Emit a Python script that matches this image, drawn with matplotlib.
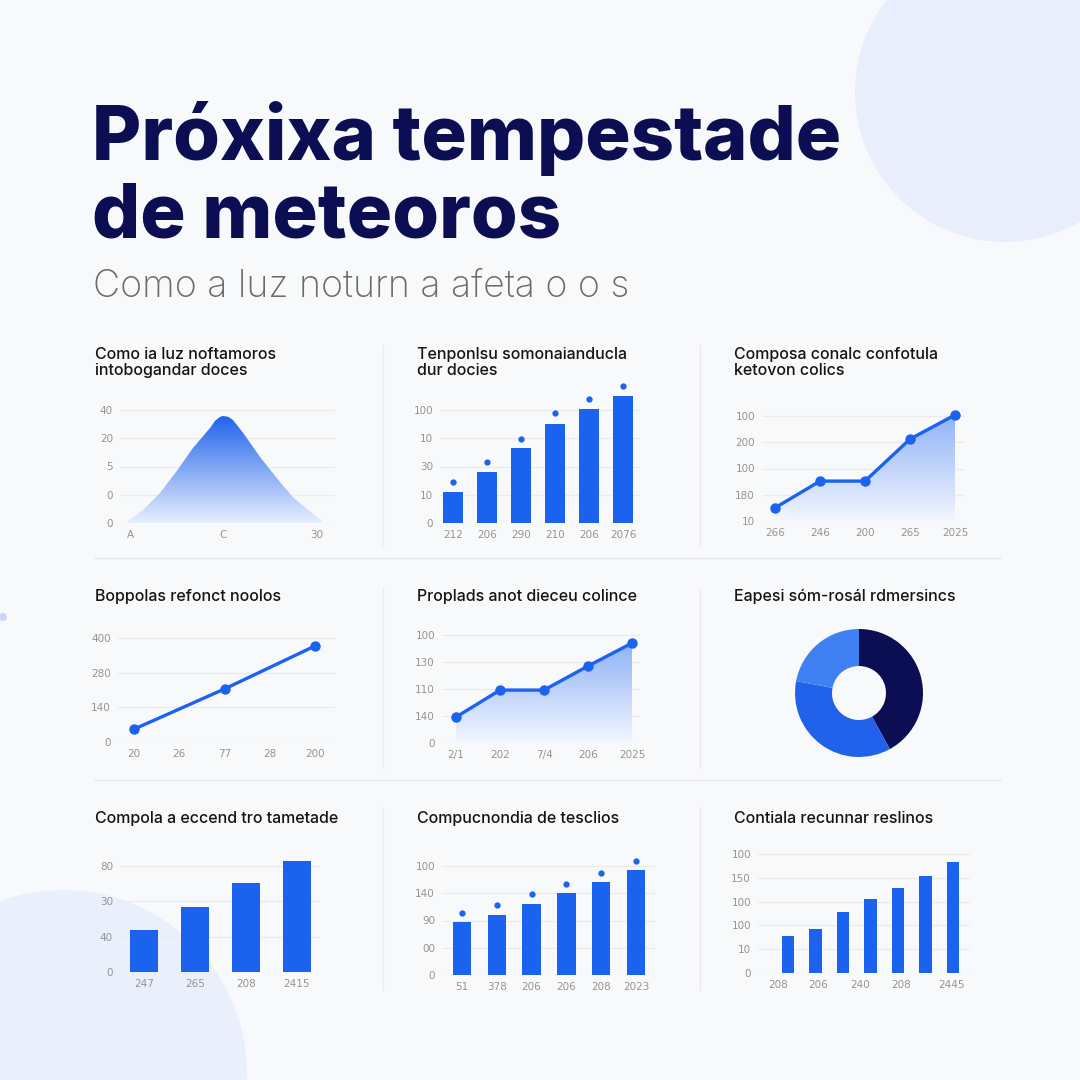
import numpy as np
import matplotlib.pyplot as plt
from matplotlib.patches import Circle
from matplotlib.colors import LinearSegmentedColormap

W = H = 1080
NAVY = '#0b0e52'
BLUE = '#1b63ef'
GRID = '#ebebeb'
TICK = '#949494'

# painel 1 - curva em sino (x: A=0, C=1, 30=2; y em unidades de marca)
bell_x = [-0.03, 0.14, 0.32, 0.50, 0.67, 0.86, 0.91, 0.96, 0.99, 1.05, 1.10,
          1.21, 1.39, 1.57, 1.74, 1.93, 2.06]
bell_y = [0.04, 0.46, 1.06, 1.84, 2.64, 3.38, 3.62, 3.75, 3.79, 3.76, 3.65,
          3.19, 2.34, 1.59, 0.92, 0.39, 0.07]
p1_yticks = ['0', '0', '5', '20', '40']
p1_xticks = ['A', 'C', '30']

# painel 2 - barras com pontos
p2_bars = [1.10, 1.81, 2.65, 3.50, 4.04, 4.50]
p2_dots = [1.45, 2.16, 2.97, 3.89, 4.39, 4.85]
p2_yticks = ['0', '10', '30', '10', '100']
p2_xticks = ['212', '206', '290', '210', '206', '2076']

# painel 3 - linha com area
p3_vals = [0.50, 1.52, 1.52, 3.12, 4.04]
p3_yticks = ['10', '180', '100', '200', '100']
p3_xticks = ['266', '246', '200', '265', '2025']

# painel 4 - linha
p4_x = [0, 2, 4]
p4_vals = [0.37, 1.53, 2.77]
p4_yticks = ['0', '140', '280', '400']
p4_xticks = ['20', '26', '77', '28', '200']

# painel 5 - linha com area
p5_vals = [0.96, 1.96, 1.96, 2.85, 3.70]
p5_yticks = ['0', '140', '110', '130', '100']
p5_xticks = ['2/1', '202', '7/4', '206', '2025']

# painel 6 - rosca
donut_vals = [42, 36, 22]
donut_colors = [NAVY, '#2262ea', '#3f80f2']

# painel 7 - barras
p7_bars = [1.19, 1.84, 2.52, 3.14]
p7_yticks = ['0', '40', '30', '80']
p7_xticks = ['247', '265', '208', '2415']

# painel 8 - barras com pontos
p8_bars = [1.94, 2.20, 2.61, 3.01, 3.41, 3.85]
p8_dots = [2.28, 2.57, 2.97, 3.34, 3.74, 4.18]
p8_yticks = ['0', '00', '90', '140', '100']
p8_xticks = ['51', '378', '206', '206', '208', '2023']

# painel 9 - barras
p9_bars = [1.55, 1.85, 2.56, 3.11, 3.57, 4.08, 4.66]
p9_yticks = ['0', '10', '100', '100', '150', '100']
p9_xticks = ['208', '206', '240', '208', '2445']

titles = [
    'Como ia luz noftamoros\nintobogandar doces',
    'Tenponlsu somonaianducla\ndur docies',
    'Composa conalc confotula\nketovon colics',
    'Boppolas refonct noolos',
    'Proplads anot dieceu colince',
    'Eapesi sóm-rosál rdmersincs',
    'Compola a eccend tro tametade',
    'Compucnondia de tesclios',
    'Contiala recunnar reslinos',
]

fig = plt.figure(figsize=(10.8, 10.8), dpi=100)
fig.patch.set_facecolor('#f8f9fb')

bg = fig.add_axes([0, 0, 1, 1])
bg.set_xlim(0, W)
bg.set_ylim(H, 0)
bg.axis('off')
bg.add_patch(Circle((1005, 92), 150, color='#e8eefc', lw=0))
bg.add_patch(Circle((63, 1074), 184, color='#e9effb', lw=0))
bg.add_patch(Circle((3, 617), 4, color='#c9d6f6', lw=0))
# separadores
for yy in [558, 780]:
    bg.plot([95, 1000], [yy, yy], color='#e6e7ea', lw=1)
for xx in [383, 700]:
    for (a, b) in [(345, 545), (588, 768), (808, 990)]:
        bg.plot([xx, xx], [a, b], color='#ececee', lw=1)


def ftext(x, y, s, **kw):
    fig.text(x / W, 1 - y / H, s, **kw)


ftext(92, 160, 'Próxixa tempestade', fontsize=54.5, fontweight='heavy',
      family='Inter', color=NAVY, va='baseline')
ftext(92, 238, 'de meteoros', fontsize=54.5, fontweight='heavy',
      family='Inter', color=NAVY, va='baseline')
ftext(93, 297, 'Como a luz noturn a afeta o o s', fontsize=27,
      fontweight='light', family='Inter', color='#6b6b6b', va='baseline')

title_pos = [(95, 347), (417, 347), (734, 347),
             (95, 589), (417, 589), (734, 589),
             (95, 811), (417, 811), (734, 811)]
for (tx, ty), t in zip(title_pos, titles):
    ftext(tx, ty, t, fontsize=11.5, fontweight='medium', family='Inter',
          color='#141414', va='top', linespacing=1.1)


def make_ax(left, right, top, y0, ystep, x0, xstep):
    ax = fig.add_axes([left / W, 1 - y0 / H, (right - left) / W, (y0 - top) / H])
    ax.set_facecolor('none')
    ax.set_ylim(0, (y0 - top) / ystep)
    ax.set_xlim((left - x0) / xstep, (right - x0) / xstep)
    for s in ax.spines.values():
        s.set_visible(False)
    ax.tick_params(length=0, labelsize=7.5, labelcolor=TICK, pad=5)
    ax.grid(axis='y', color=GRID, lw=0.9)
    ax.set_axisbelow(True)
    return ax


def grad_fill(ax, x, y, top_c, bot_c):
    poly = ax.fill_between(x, y, 0, color='none', lw=0)
    path = poly.get_paths()[0]
    cmap = LinearSegmentedColormap.from_list('g', [bot_c, top_c])
    grad = np.linspace(0, 1, 256).reshape(-1, 1)
    xl, yl = ax.get_xlim(), ax.get_ylim()
    im = ax.imshow(grad, cmap=cmap, aspect='auto', origin='lower',
                   extent=[x[0], x[-1], 0, max(y)], zorder=1)
    im.set_clip_path(path, transform=ax.transData)
    ax.set_xlim(xl)
    ax.set_ylim(yl)


# painel 1
ax = make_ax(120, 335, 395, 523, 28.25, 130, 93.5)
grad_fill(ax, bell_x, bell_y, '#1f63ec', '#e6eefd')
ax.set_yticks(range(len(p1_yticks)))
ax.set_yticklabels(p1_yticks)
ax.set_xticks(range(len(p1_xticks)))
ax.set_xticklabels(p1_xticks)

# painel 2
ax = make_ax(440, 640, 380, 523, 28.25, 453, 34)
xs = range(len(p2_bars))
ax.bar(xs, p2_bars, width=0.6, color=BLUE, zorder=2)
ax.plot(xs, p2_dots, 'o', color=BLUE, ms=3.5, zorder=3, clip_on=False)
ax.set_yticks(range(len(p2_yticks)))
ax.set_yticklabels(p2_yticks)
ax.set_xticks(list(xs))
ax.set_xticklabels(p2_xticks)

# painel 3
ax = make_ax(762, 965, 400, 521, 26.25, 775, 45)
xs = list(range(len(p3_vals)))
grad_fill(ax, xs, p3_vals, '#8fb2f6', '#f3f7fe')
ax.plot(xs, p3_vals, '-o', color=BLUE, lw=2.4, ms=6.5, zorder=3, clip_on=False)
ax.set_yticks(range(len(p3_yticks)))
ax.set_yticklabels(p3_yticks)
ax.set_xticks(xs)
ax.set_xticklabels(p3_xticks)

# painel 4
ax = make_ax(118, 335, 625, 742, 34.7, 134, 45.3)
ax.plot(p4_x, p4_vals, '-o', color=BLUE, lw=2.4, ms=6.5, zorder=3, clip_on=False)
ax.set_yticks(range(len(p4_yticks)))
ax.set_yticklabels(p4_yticks)
ax.set_xticks(range(len(p4_xticks)))
ax.set_xticklabels(p4_xticks)

# painel 5
ax = make_ax(442, 640, 625, 743, 27, 456, 44)
xs = list(range(len(p5_vals)))
grad_fill(ax, xs, p5_vals, '#8fb2f6', '#f3f7fe')
ax.plot(xs, p5_vals, '-o', color=BLUE, lw=2.4, ms=6.5, zorder=3, clip_on=False)
ax.set_yticks(range(len(p5_yticks)))
ax.set_yticklabels(p5_yticks)
ax.set_xticks(xs)
ax.set_xticklabels(p5_xticks)

# painel 6 - rosca
ax = fig.add_axes([(859 - 64) / W, 1 - (693 + 64) / H, 128 / W, 128 / H])
ax.pie(donut_vals, colors=donut_colors, startangle=90, counterclock=False,
       radius=1, wedgeprops=dict(width=1 - 27 / 64, lw=0))
ax.set_xlim(-1, 1)
ax.set_ylim(-1, 1)
ax.axis('off')

# painel 7
ax = make_ax(120, 320, 850, 972, 35.3, 144, 51)
xs = range(len(p7_bars))
ax.bar(xs, p7_bars, width=0.56, color=BLUE, zorder=2)
ax.set_yticks(range(len(p7_yticks)))
ax.set_yticklabels(p7_yticks)
ax.set_xticks(list(xs))
ax.set_xticklabels(p7_xticks)

# painel 8
ax = make_ax(442, 655, 850, 975, 27.25, 462, 34.8)
xs = range(len(p8_bars))
ax.bar(xs, p8_bars, width=0.53, color=BLUE, zorder=2)
ax.plot(xs, p8_dots, 'o', color=BLUE, ms=3.5, zorder=3, clip_on=False)
ax.set_yticks(range(len(p8_yticks)))
ax.set_yticklabels(p8_yticks)
ax.set_xticks(list(xs))
ax.set_xticklabels(p8_xticks)

# painel 9
ax = make_ax(758, 970, 845, 973, 23.8, 788, 27.5)
xs = range(len(p9_bars))
ax.bar(xs, p9_bars, width=0.47, color=BLUE, zorder=2)
ax.set_yticks(range(len(p9_yticks)))
ax.set_yticklabels(p9_yticks)
ax.set_xticks([-0.36, 1.09, 2.62, 4.11, 5.96])
ax.set_xticklabels(p9_xticks)

fig.savefig('out.png', dpi=100, facecolor=fig.get_facecolor())
